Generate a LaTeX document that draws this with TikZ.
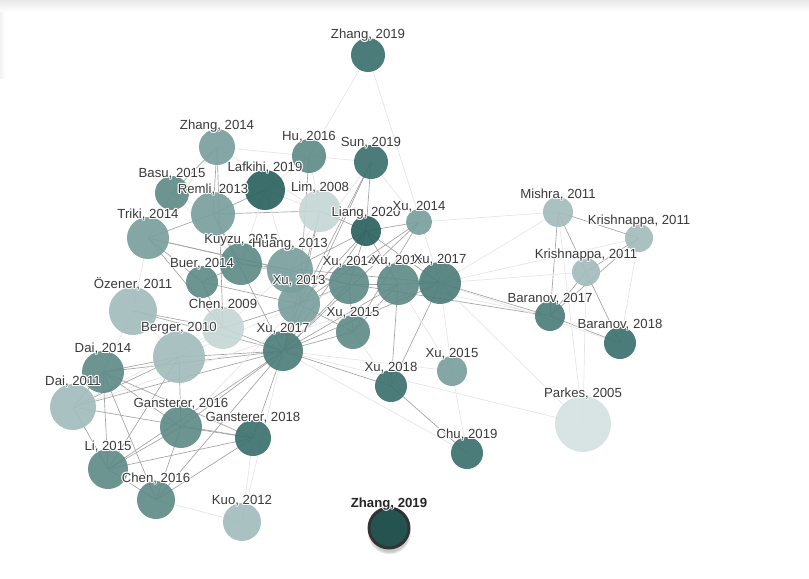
\documentclass[tikz,border=0pt]{standalone}
\usepackage{fontspec}
\setmainfont{Liberation Sans}
\usepackage{contour}
\contourlength{0.8pt}
\contournumber{8}
\usetikzlibrary{backgrounds,shadows}
\definecolor{tA}{HTML}{2B625E}
\definecolor{tB}{HTML}{3D716E}
\definecolor{tC}{HTML}{4D7D79}
\definecolor{tD}{HTML}{5F8B88}
\definecolor{tE}{HTML}{7A9F9D}
\definecolor{tF}{HTML}{A2BCBB}
\definecolor{tG}{HTML}{C5D7D6}
\definecolor{tH}{HTML}{D4E2E1}
\definecolor{ink}{HTML}{3A3A3A}

\begin{document}
\begin{tikzpicture}[x=0.75pt,y=-0.75pt,
  nd/.style={circle,inner sep=0pt,minimum size=#1*1.5pt,fill opacity=0.92},
  lbl/.style={anchor=south,inner sep=1pt,text=ink,font=\fontsize{9.9}{11}\selectfont},
  lk/.style={draw=black!36,line width=0.5pt},
  fk/.style={draw=black!10,line width=0.5pt}]
  \useasboundingbox (0,0) rectangle (809,578);
  \shade[top color=black!9,bottom color=white] (0,0) rectangle (809,12);
  \shade[left color=black!5,right color=white] (0,12) rectangle (5,78);

  % papers
  \foreach \n/\x/\y/\r/\c in {
      zhA/368/55/17/tB, zh14/217/147/18/tE, hu16/309/156/17/tD, sun19/371/162/17/tB,
      basu15/172/193/17/tD, laf19/265/190/20/tA, remli13/213/214/22/tE, lim08/320/211/21/tG,
      liang20/366/231/15/tA, xu14s/419/222/13/tE, mishra11/558/212/15/tF, kriR/639/238/14/tF,
      triki14/148/238/21/tE, kuyzu15/241/264/21/tD, huang13/290/270/23/tE, buer14/202/282/16/tD,
      kriC/586/272/14/tF, xu14/349/284/20/tD, xu16/398/284/21/tD, xu17r/440/283/21/tC,
      xu13/299/304/21/tE, xu15c/353/332/17/tD, xu17/283/351/20/tC, ozener11/133/311/24/tF,
      chen09/223/328/21/tG, berger10/179/357/26/tF, dai14/103/372/21/tD, dai11/73/407/23/tF,
      gan16/181/427/21/tD, gan18/253/438/18/tB, li15/108/469/20/tD, chen16/156/500/19/tD,
      kuo12/242/522/19/tF, xu18/391/386/16/tB, xu15r/452/371/15/tE, chu19/467/453/16/tB,
      bar17/550/316/15/tC, bar18/620/343/16/tB, parkes05/583/424/28/tH}
    \node[nd=\r,fill=\c] (\n) at (\x,\y) {};
  \node[nd=20,fill=tA!85!black,fill opacity=1,draw=black!80,line width=2.2pt,
    circular drop shadow={shadow xshift=0pt,shadow yshift=-3pt,opacity=0.45}] (zhB) at (389,528) {};

  \begin{scope}[on background layer]
  \foreach \a/\b in {zh14/remli13, zh14/basu15, zh14/chen09, triki14/remli13, triki14/huang13,
      triki14/xu14, triki14/buer14, triki14/chen09, remli13/lim08, remli13/kuyzu15, remli13/xu17,
      laf19/remli13, sun19/liang20, sun19/xu13, sun19/xu17, liang20/xu13, liang20/xu17,
      liang20/xu14, liang20/xu16, liang20/xu17r, liang20/xu14s, huang13/liang20, lim08/liang20,
      lim08/xu13, lim08/xu17, hu16/xu13, xu14s/xu17, xu14s/xu15c, xu14s/xu13, xu17r/bar17,
      xu17r/xu18, xu16/xu18, xu18/chu19, xu18/xu17, mishra11/bar17, mishra11/kriR, mishra11/kriC,
      kriR/bar17, kriR/kriC, kriC/bar17, kriC/bar18, bar17/bar18, xu14/bar17,
      xu17/berger10, xu17/dai14, xu17/dai11, xu17/gan16, xu17/gan18, xu17/li15, xu17/chen16,
      xu17/chen09, xu17/xu13, xu17/xu14, xu17/xu15c, xu17/xu16, xu17/xu17r, xu17/ozener11,
      dai14/dai11, dai14/li15, dai14/chen16, dai14/gan16, dai14/gan18, dai14/berger10,
      dai11/gan18, dai11/li15, dai11/berger10, berger10/gan16, berger10/li15, gan16/gan18,
      gan16/li15, gan16/chen16, gan18/chen16, gan18/li15, li15/chen16, chen09/xu13,
      ozener11/chen09, buer14/xu13, buer14/kuyzu15, buer14/chen09, kuyzu15/huang13,
      kuyzu15/xu14, kuyzu15/xu17r, huang13/xu13, huang13/xu14, xu14/xu16, xu16/xu17r,
      xu13/xu14, xu13/xu15c, xu14/xu15c, xu15c/xu16}
    \draw[lk] (\a.center) -- (\b.center);
  \foreach \a/\b in {zhA/hu16, zhA/xu17r, xu17r/mishra11, xu17r/kriC, xu17r/bar18,
      parkes05/mishra11, parkes05/kriC, parkes05/xu17r, parkes05/xu17, xu15r/chu19, xu15r/xu17,
      xu15r/xu16, kuo12/gan18, kuo12/xu17, zh14/hu16, zh14/lim08, zh14/triki14, hu16/sun19,
      hu16/lim08, hu16/laf19, sun19/xu14s, sun19/huang13, laf19/lim08, laf19/xu13, laf19/kuyzu15,
      basu15/remli13, basu15/triki14, basu15/kuyzu15, ozener11/dai14, ozener11/berger10,
      ozener11/triki14, chen09/berger10, chen09/dai11, xu15c/xu18, xu16/bar17, xu17r/xu15r,
      berger10/xu14, dai11/xu17r, chu19/xu17, kriR/bar18, kriR/xu17r, xu14s/mishra11,
      lim08/huang13, remli13/xu13, huang13/chen09, gan16/xu13, chen16/kuo12}
    \draw[fk] (\a.center) -- (\b.center);
  \end{scope}

  % labels on top
  \foreach \n/\t in {zhA/{Zhang, 2019}, zh14/{Zhang, 2014}, hu16/{Hu, 2016}, sun19/{Sun, 2019},
      basu15/{Basu, 2015}, laf19/{Lafkihi, 2019}, remli13/{Remli, 2013}, lim08/{Lim, 2008},
      liang20/{Liang, 2020}, xu14s/{Xu, 2014}, mishra11/{Mishra, 2011}, kriR/{Krishnappa, 2011},
      triki14/{Triki, 2014}, kuyzu15/{Kuyzu, 2015}, huang13/{Huang, 2013}, buer14/{Buer, 2014},
      kriC/{Krishnappa, 2011}, xu14/{Xu, 2014}, xu16/{Xu, 2016}, xu17r/{Xu, 2017},
      xu13/{Xu, 2013}, xu15c/{Xu, 2015}, xu17/{Xu, 2017}, ozener11/{Özener, 2011},
      chen09/{Chen, 2009}, berger10/{Berger, 2010}, dai14/{Dai, 2014}, dai11/{Dai, 2011},
      gan16/{Gansterer, 2016}, gan18/{Gansterer, 2018}, li15/{Li, 2015}, chen16/{Chen, 2016},
      kuo12/{Kuo, 2012}, xu18/{Xu, 2018}, xu15r/{Xu, 2015}, chu19/{Chu, 2019},
      bar17/{Baranov, 2017}, bar18/{Baranov, 2018}, parkes05/{Parkes, 2005}}
    \node[lbl] (l-\n) at ([yshift=-4.5pt]\n.north) {\contour{white}{\t}};
  \node[lbl,text=black!85,font=\fontsize{9.9}{11}\selectfont\bfseries] (l-zhB)
    at ([yshift=-4.5pt]zhB.north) {\contour{white}{Zhang, 2019}};
\end{tikzpicture}
\end{document}
